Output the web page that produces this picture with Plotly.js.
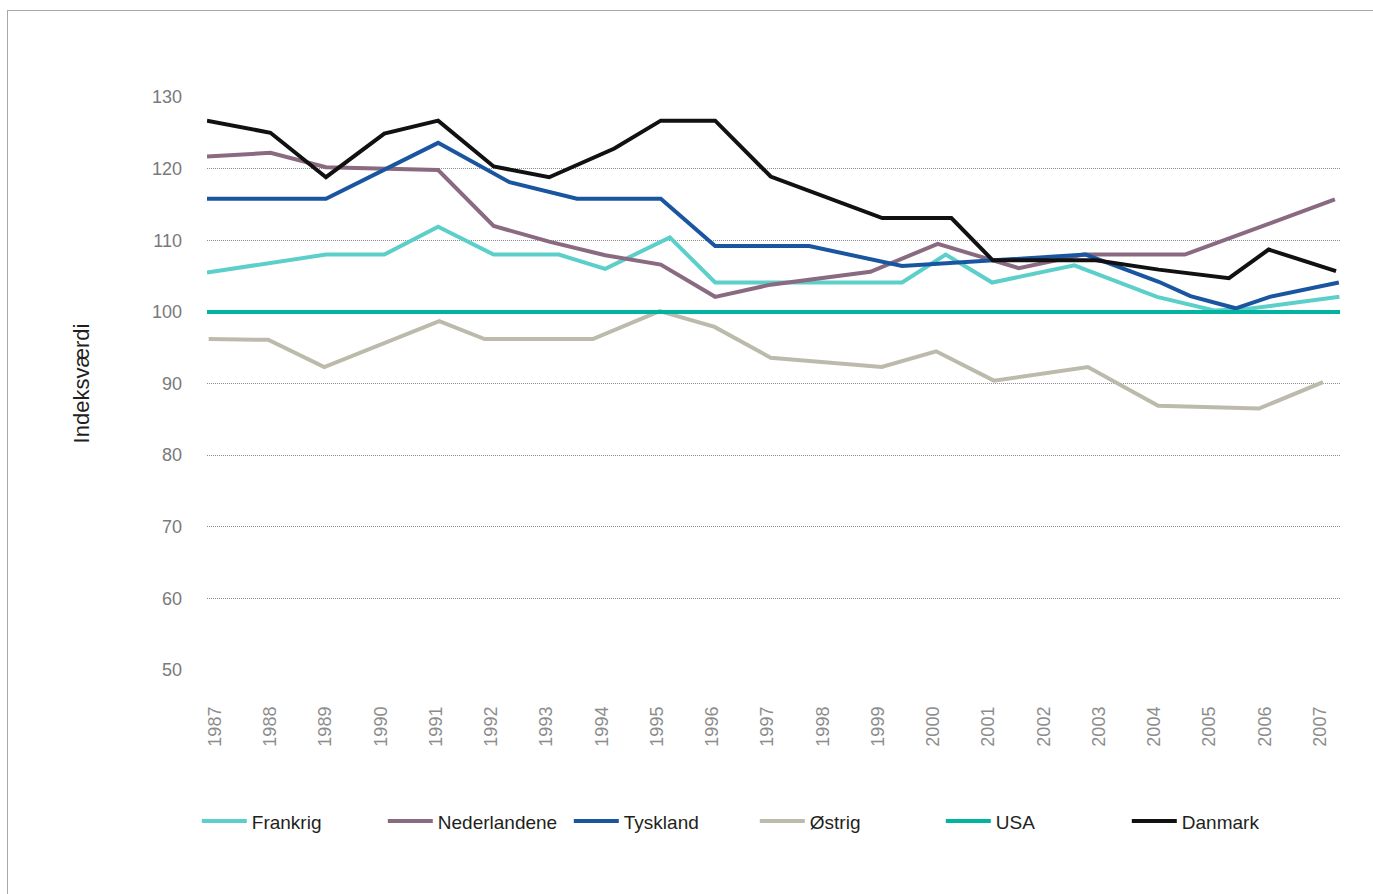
<!DOCTYPE html>
<html>
<head>
<meta charset="utf-8">
<script src="https://cdn.plot.ly/plotly-3.0.1.min.js"></script>
<style>
  html, body { margin: 0; padding: 0; background: #ffffff; }
  #wrap { position: relative; width: 1373px; height: 894px; overflow: hidden; }
  #chart { position: absolute; left: 0; top: 0; width: 1373px; height: 894px; }
  #frame { position: absolute; left: 7px; top: 10px; width: 1400px; height: 1000px;
           border: 1px solid #a8a8a8; pointer-events: none; }
</style>
</head>
<body>
<div id="wrap">
  <div id="chart"></div>
  <div id="frame"></div>
</div>
<script>
// ---- Data ----
const years = [1987, 1988, 1989, 1990, 1991, 1992, 1993, 1994, 1995, 1996, 1997,
               1998, 1999, 2000, 2001, 2002, 2003, 2004, 2005, 2006, 2007];

const frankrigX = [1987.0, 1989.10, 1990.13, 1991.08, 1992.06, 1993.21, 1994.03, 1995.17, 1995.97,
                   1999.27, 2000.04, 2000.86, 2002.31, 2003.77, 2004.78, 2005.35, 2006.99];
const frankrigY = [105.5, 108.0, 108.0, 111.9, 108.0, 108.0, 106.0, 110.4, 104.1,
                   104.1, 108.0, 104.1, 106.5, 102.1, 100.2, 100.4, 102.1];

const nederlandeneX = [1987.0, 1988.12, 1989.10, 1991.08, 1992.06, 1993.04, 1994.03, 1995.01, 1995.97,
                       1996.95, 1998.71, 1999.90, 2001.33, 2002.47, 2004.26, 2006.91];
const nederlandeneY = [121.7, 122.2, 120.2, 119.8, 112.0, 109.8, 107.9, 106.6, 102.1,
                       103.8, 105.6, 109.5, 106.1, 108.0, 108.0, 115.7];

const tysklandX = [1987.0, 1989.10, 1991.08, 1992.34, 1993.53, 1995.01, 1995.97, 1997.63, 1999.27,
                   2002.51, 2003.80, 2004.36, 2005.16, 2005.76, 2006.98];
const tysklandY = [115.8, 115.8, 123.6, 118.1, 115.8, 115.8, 109.2, 109.2, 106.4,
                   108.0, 104.2, 102.2, 100.5, 102.1, 104.1];

const oestrigX = [1987.03, 1988.08, 1989.07, 1991.10, 1991.90, 1993.81, 1994.99, 1995.96, 1996.95,
                  1998.91, 1999.87, 2000.89, 2002.55, 2003.79, 2005.57, 2006.70];
const oestrigY = [96.2, 96.1, 92.3, 98.7, 96.2, 96.2, 100.1, 97.9, 93.6,
                  92.3, 94.5, 90.4, 92.3, 86.9, 86.5, 90.2];

const usaX = [1987, 2007];
const usaY = [100, 100];

const danmarkX = [1987.0, 1988.12, 1989.10, 1990.13, 1991.08, 1992.06, 1993.04, 1994.19, 1995.01, 1995.97,
                  1996.95, 1998.92, 2000.14, 2000.87, 2002.69, 2003.80, 2005.04, 2005.74, 2006.93];
const danmarkY = [126.7, 125.0, 118.8, 124.9, 126.7, 120.3, 118.8, 122.8, 126.7, 126.7,
                  118.9, 113.1, 113.1, 107.2, 107.2, 105.9, 104.7, 108.7, 105.7];

const yTicks = [50, 60, 70, 80, 90, 100, 110, 120, 130];

// ---- Styling ----
const seriesDefs = [
  { name: 'Frankrig',     x: frankrigX,     y: frankrigY,     color: '#5ccfca' },
  { name: 'Nederlandene', x: nederlandeneX, y: nederlandeneY, color: '#8a6a80' },
  { name: 'Tyskland',     x: tysklandX,     y: tysklandY,     color: '#1a56a0' },
  { name: 'Østrig',       x: oestrigX,      y: oestrigY,      color: '#bcbbab' },
  { name: 'USA',          x: usaX,          y: usaY,          color: '#00b4a0' },
  { name: 'Danmark',      x: danmarkX,      y: danmarkY,      color: '#111111' }
];

const traces = seriesDefs.map(s => ({
  type: 'scatter',
  mode: 'lines',
  name: s.name,
  x: s.x,
  y: s.y,
  line: { color: s.color, width: 4 },
  hoverinfo: 'x+y+name'
}));

// tick label positions (labels sit slightly left-shifted relative to data grid)
const tickPos = years.map((yr, i) => 1987.14 + i * 0.9753);

const layout = {
  width: 1373,
  height: 894,
  margin: { l: 207, r: 33, t: 97, b: 224 },
  paper_bgcolor: 'rgba(0,0,0,0)',
  plot_bgcolor: 'rgba(0,0,0,0)',
  showlegend: true,
  xaxis: {
    range: [1987, 2007],
    tickmode: 'array',
    tickvals: tickPos,
    ticktext: years.map(String),
    tickangle: -90,
    showgrid: false,
    zeroline: false,
    showline: false,
    ticks: '',
    ticklabelstandoff: 32,
    tickfont: { family: 'Liberation Sans, Arial, sans-serif', size: 18, color: '#8c8c8c' },
    fixedrange: true
  },
  yaxis: {
    range: [50, 130],
    tickmode: 'array',
    tickvals: yTicks,
    showgrid: true,
    gridcolor: '#8a8a8a',
    gridwidth: 1,
    griddash: '1px,1px',
    zeroline: false,
    showline: false,
    ticks: '',
    ticklabelstandoff: 24,
    tickfont: { family: 'Liberation Sans, Arial, sans-serif', size: 18, color: '#7a7a7a' },
    title: {
      text: 'Indeksværdi',
      font: { family: 'Liberation Sans, Arial, sans-serif', size: 22, color: '#231f20' },
      standoff: 56
    },
    fixedrange: true
  },
  legend: {
    orientation: 'h',
    x: -0.009,
    xanchor: 'left',
    y: -0.264,
    yanchor: 'middle',
    font: { family: 'Liberation Sans, Arial, sans-serif', size: 19, color: '#231f20' },
    itemwidth: 45,
    entrywidth: 126,
    traceorder: 'normal',
    bgcolor: 'rgba(0,0,0,0)'
  }
};

Plotly.newPlot('chart', traces, layout, { displayModeBar: false, staticPlot: true });
</script>
</body>
</html>
